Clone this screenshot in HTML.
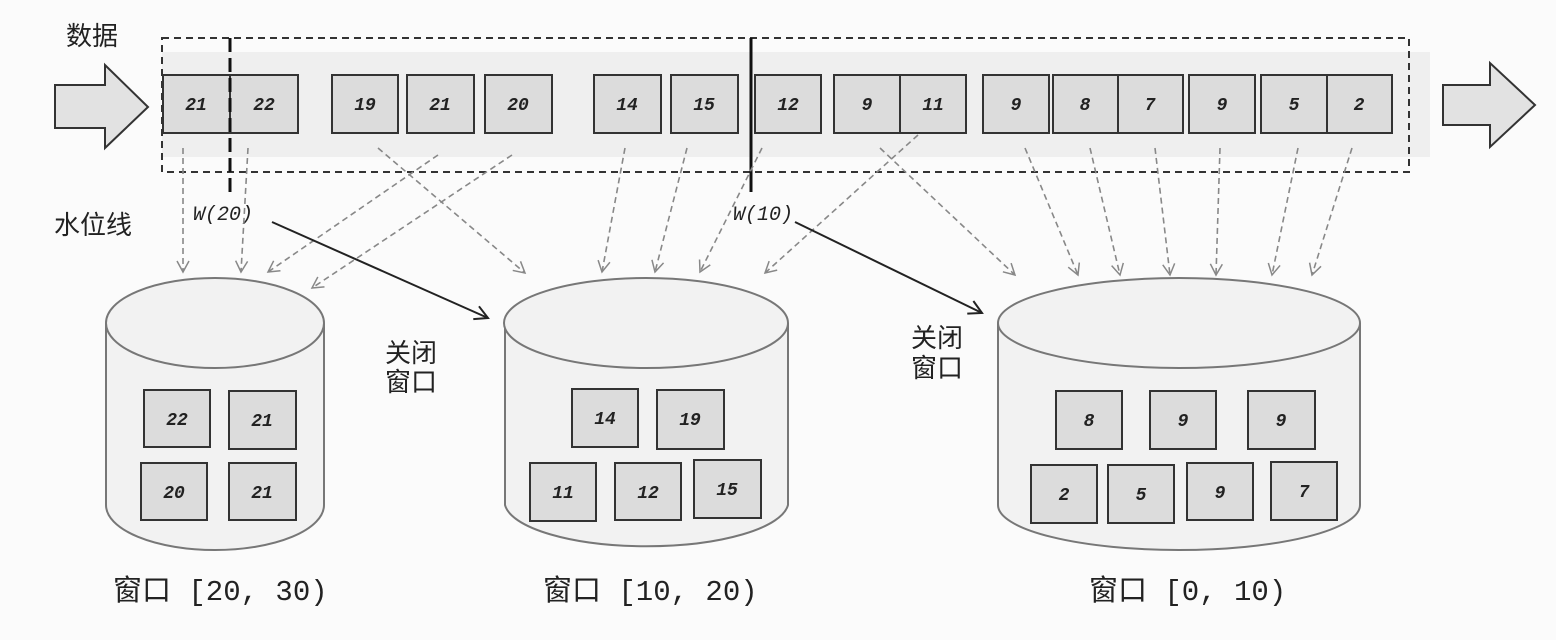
<!DOCTYPE html>
<html><head><meta charset="utf-8"><style>
html,body{margin:0;padding:0;background:#fbfbfb;}
svg{display:block}
.n{font-family:"Liberation Mono",monospace;font-style:italic;font-weight:bold;font-size:18px;fill:#222;text-anchor:middle}
.cj{font-family:"Liberation Sans","Noto Sans CJK SC",sans-serif;fill:#222}
.lb{font-family:"Liberation Mono","Noto Sans CJK SC",monospace;fill:#222;font-size:29px}
</style></head><body>
<svg width="1556" height="640" viewBox="0 0 1556 640" xmlns="http://www.w3.org/2000/svg">
<defs>
<marker id="g" markerWidth="14" markerHeight="14" refX="12" refY="7" orient="auto" markerUnits="userSpaceOnUse">
<path d="M1,1 L12,7 L1,13" fill="none" stroke="#888" stroke-width="1.5"/></marker>
<marker id="k" markerWidth="16" markerHeight="16" refX="14" refY="8" orient="auto" markerUnits="userSpaceOnUse">
<path d="M1,1 L14,8 L1,15" fill="none" stroke="#222" stroke-width="2"/></marker>
</defs>
<rect x="0" y="0" width="1556" height="640" fill="#fbfbfb"/>
<rect x="162" y="52" width="1268" height="105" fill="#efefef"/>
<rect x="162" y="38" width="1247" height="134" fill="none" stroke="#333" stroke-width="2" stroke-dasharray="7,5"/>
<path d="M55,85 H105 V65 L148,107 L105,148 V128 H55 Z" fill="#e2e2e2" stroke="#333" stroke-width="2"/>
<path d="M1443,85 H1490 V63 L1535,105 L1490,147 V125 H1443 Z" fill="#e2e2e2" stroke="#333" stroke-width="2"/>
<text x="66" y="45" class="cj" font-size="26">数据</text>
<text x="54" y="234" class="cj" font-size="26">水位线</text>
<g fill="#dcdcdc" stroke="#333" stroke-width="2">
<rect x="163" y="75" width="67" height="58"/><rect x="230" y="75" width="68" height="58"/>
<rect x="332" y="75" width="66" height="58"/><rect x="407" y="75" width="67" height="58"/><rect x="485" y="75" width="67" height="58"/>
<rect x="594" y="75" width="67" height="58"/><rect x="671" y="75" width="67" height="58"/>
<rect x="755" y="75" width="66" height="58"/><rect x="834" y="75" width="66" height="58"/><rect x="900" y="75" width="66" height="58"/>
<rect x="983" y="75" width="66" height="58"/><rect x="1053" y="75" width="65" height="58"/><rect x="1118" y="75" width="65" height="58"/>
<rect x="1189" y="75" width="66" height="58"/><rect x="1261" y="75" width="66" height="58"/><rect x="1327" y="75" width="65" height="58"/>
</g>
<g>
<text x="196" y="110" class="n">21</text><text x="264" y="110" class="n">22</text>
<text x="365" y="110" class="n">19</text><text x="440" y="110" class="n">21</text><text x="518" y="110" class="n">20</text>
<text x="627" y="110" class="n">14</text><text x="704" y="110" class="n">15</text>
<text x="788" y="110" class="n">12</text><text x="867" y="110" class="n">9</text><text x="933" y="110" class="n">11</text>
<text x="1016" y="110" class="n">9</text><text x="1085" y="110" class="n">8</text><text x="1150" y="110" class="n">7</text>
<text x="1222" y="110" class="n">9</text><text x="1294" y="110" class="n">5</text><text x="1359" y="110" class="n">2</text>
</g>
<line x1="230" y1="38" x2="230" y2="192" stroke="#111" stroke-width="3" stroke-dasharray="14,6"/>
<line x1="751" y1="38" x2="751" y2="192" stroke="#111" stroke-width="3"/>
<text x="193" y="220" font-family="Liberation Mono,monospace" font-style="italic" font-size="20" fill="#222">W(20)</text>
<text x="733" y="220" font-family="Liberation Mono,monospace" font-style="italic" font-size="20" fill="#222">W(10)</text>
<g stroke="#888" stroke-width="1.6" stroke-dasharray="6,4" fill="none" marker-end="url(#g)">
<line x1="183" y1="148" x2="183" y2="272"/><line x1="248" y1="148" x2="241" y2="272"/>
<line x1="378" y1="148" x2="525" y2="273"/><line x1="438" y1="155" x2="268" y2="272"/>
<line x1="512" y1="155" x2="312" y2="288"/><line x1="625" y1="148" x2="602" y2="272"/>
<line x1="687" y1="148" x2="655" y2="272"/><line x1="762" y1="148" x2="700" y2="272"/>
<line x1="880" y1="148" x2="1015" y2="275"/><line x1="918" y1="135" x2="765" y2="273"/>
<line x1="1025" y1="148" x2="1078" y2="275"/><line x1="1090" y1="148" x2="1120" y2="275"/>
<line x1="1155" y1="148" x2="1170" y2="275"/><line x1="1220" y1="148" x2="1216" y2="275"/>
<line x1="1298" y1="148" x2="1272" y2="275"/><line x1="1352" y1="148" x2="1312" y2="275"/>
</g>
<line x1="272" y1="222" x2="488" y2="318" stroke="#222" stroke-width="2" marker-end="url(#k)"/>
<line x1="795" y1="222" x2="982" y2="313" stroke="#222" stroke-width="2" marker-end="url(#k)"/>
<g fill="#f2f2f2" stroke="#777" stroke-width="2">
<path d="M106,323 V505 A109,45 0 0 0 324,505 V323"/><ellipse cx="215" cy="323" rx="109" ry="45"/>
<path d="M505,323 V505 A142,45 0 0 0 788,505 V323"/><ellipse cx="646" cy="323" rx="142" ry="45"/>
<path d="M998,323 V505 A181,45 0 0 0 1360,505 V323"/><ellipse cx="1179" cy="323" rx="181" ry="45"/>
</g>
<g fill="#dcdcdc" stroke="#333" stroke-width="2">
<rect x="144" y="390" width="66" height="57"/><rect x="229" y="391" width="67" height="58"/>
<rect x="141" y="463" width="66" height="57"/><rect x="229" y="463" width="67" height="57"/>
<rect x="572" y="389" width="66" height="58"/><rect x="657" y="390" width="67" height="59"/>
<rect x="530" y="463" width="66" height="58"/><rect x="615" y="463" width="66" height="57"/><rect x="694" y="460" width="67" height="58"/>
<rect x="1056" y="391" width="66" height="58"/><rect x="1150" y="391" width="66" height="58"/><rect x="1248" y="391" width="67" height="58"/>
<rect x="1031" y="465" width="66" height="58"/><rect x="1108" y="465" width="66" height="58"/><rect x="1187" y="463" width="66" height="57"/><rect x="1271" y="462" width="66" height="58"/>
</g>
<g>
<text x="177" y="425" class="n">22</text><text x="262" y="426" class="n">21</text>
<text x="174" y="498" class="n">20</text><text x="262" y="498" class="n">21</text>
<text x="605" y="424" class="n">14</text><text x="690" y="425" class="n">19</text>
<text x="563" y="498" class="n">11</text><text x="648" y="498" class="n">12</text><text x="727" y="495" class="n">15</text>
<text x="1089" y="426" class="n">8</text><text x="1183" y="426" class="n">9</text><text x="1281" y="426" class="n">9</text>
<text x="1064" y="500" class="n">2</text><text x="1141" y="500" class="n">5</text><text x="1220" y="498" class="n">9</text><text x="1304" y="497" class="n">7</text>
</g>
<text x="385" y="362" class="cj" font-size="26">关闭</text>
<text x="385" y="391" class="cj" font-size="26">窗口</text>
<text x="911" y="347" class="cj" font-size="26">关闭</text>
<text x="911" y="377" class="cj" font-size="26">窗口</text>
<text x="113" y="600" class="lb">窗口 [20, 30)</text>
<text x="543" y="600" class="lb">窗口 [10, 20)</text>
<text x="1089" y="600" class="lb">窗口 [0, 10)</text>
</svg>
</body></html>
